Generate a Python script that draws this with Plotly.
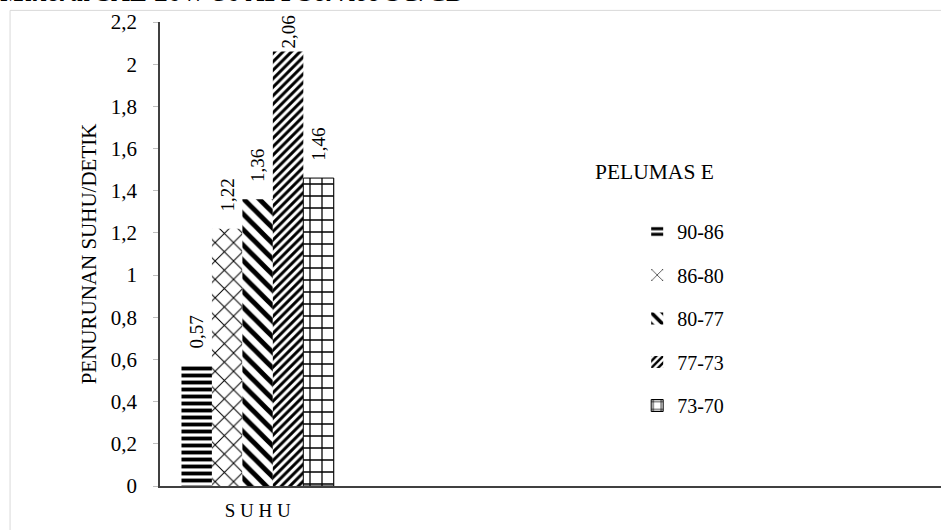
import plotly.graph_objects as go

# Temperature-drop rate per interval, lubricant E
intervals = ["90-86", "86-80", "80-77", "77-73", "73-70"]
values = [0.57, 1.22, 1.36, 2.06, 1.46]
category_pos = [0]
category_labels = ["S U H U"]
y_ticks = [0, 0.2, 0.4, 0.6, 0.8, 1, 1.2, 1.4, 1.6, 1.8, 2, 2.2]
Y_MAX = 2.2

# hatch style per interval (shape, size, solidity)
patterns = [
    ("-", 7, 0.55),
    ("x", 13, 0.15),
    ("\\", 11, 0.45),
    ("/", 6, 0.5),
    ("+", 12, 0.2),
]

FONT = "Liberation Serif, Times New Roman, serif"
NBSP = "\u00a0"

fig = go.Figure()
for name, val, (shape, size, sol) in zip(intervals, values, patterns):
    # labels sit a little above the bar, unless that would push them off the top
    pad = NBSP * 3 if val < 1.9 else ""
    fig.add_trace(go.Bar(
        x=category_pos,
        y=[val],
        name=name,
        legendgroup=name,
        marker=dict(
            color="white",
            line=dict(width=1 if shape == "+" else 0, color="black"),
            pattern=dict(shape=shape, size=size, solidity=sol,
                         fgcolor="black", bgcolor="white", fillmode="replace"),
        ),
        texttemplate=pad + "%{y:.2f}",
        textposition="outside",
        textangle=-90,
        textfont=dict(family=FONT, size=19, color="black"),
        constraintext="none",
        cliponaxis=False,
    ))

fig.update_layout(
    width=941,
    height=530,
    margin=dict(l=160, r=0, t=22, b=44),
    paper_bgcolor="white",
    plot_bgcolor="white",
    separators=",.",
    barmode="group",
    bargap=0.22,
    bargroupgap=0,
    font=dict(family=FONT, size=20, color="black"),
    showlegend=True,
    legend=dict(
        x=0.611, y=0.5905, xanchor="left", yanchor="top",
        traceorder="grouped", tracegroupgap=14.5,
        font=dict(family=FONT, size=20, color="black"),
        bgcolor="rgba(0,0,0,0)",
        itemclick=False,
    ),
    xaxis=dict(
        range=[-0.5, 3.5],
        tickvals=category_pos,
        ticktext=category_labels,
        showline=True, linecolor="#404040", linewidth=2,
        ticks="", showgrid=False, zeroline=False,
        ticklabelstandoff=6,
        tickfont=dict(family=FONT, size=19, color="black"),
    ),
    yaxis=dict(
        range=[0, Y_MAX],
        tickvals=y_ticks,
        showline=True, linecolor="#404040", linewidth=1.5,
        ticks="outside", ticklen=5, tickcolor="#bfbfbf",
        ticklabelstandoff=12,
        showgrid=False, zeroline=False,
        tickfont=dict(family=FONT, size=21, color="black"),
        title=dict(text="PENURUNAN SUHU/DETIK",
                   font=dict(family=FONT, size=21, color="black"),
                   standoff=8),
    ),
    shapes=[
        dict(type="rect", xref="paper", yref="paper",
             x0=-0.192, x1=1.02, y0=-0.2, y1=1.025,
             line=dict(color="#d9d9d9", width=1), fillcolor="rgba(0,0,0,0)",
             layer="below"),
    ],
    annotations=[
        dict(text="<b><i>Mineral SAE 20W-50 API Service SG/CD</i></b>",
             xref="paper", yref="paper", x=-0.207, y=1.064,
             xanchor="left", yanchor="middle", showarrow=False,
             font=dict(family=FONT, size=27, color="black")),
        dict(text="PELUMAS E",
             xref="paper", yref="paper", x=0.555, y=0.6767,
             xanchor="left", yanchor="middle", showarrow=False,
             font=dict(family=FONT, size=21.5, color="black")),
    ],
)

fig.write_html("out.html")
